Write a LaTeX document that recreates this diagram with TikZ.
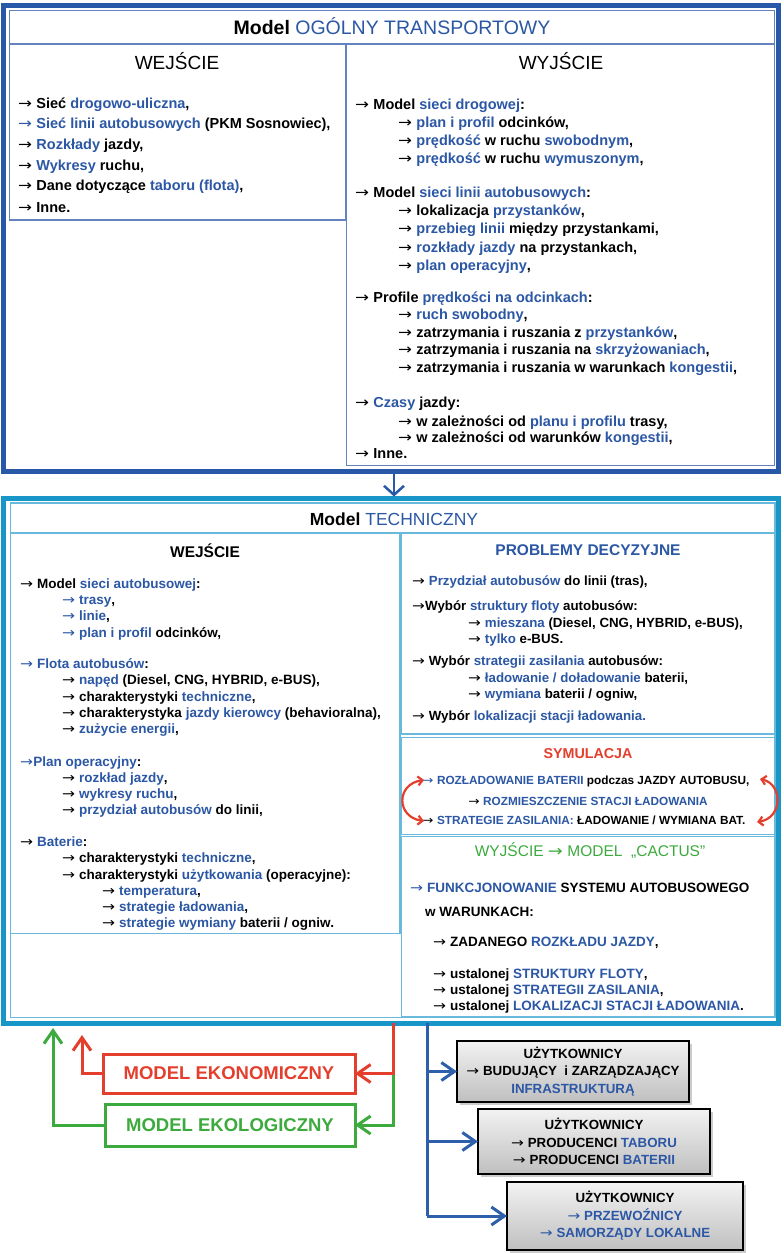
\documentclass[tikz,border=0pt]{standalone}
\usepackage{fontspec}
\usepackage{graphicx}
\setmainfont{Liberation Sans}
\newfontfamily\arrowfont{DejaVu Sans}
\usetikzlibrary{arrows.meta,shadows}
\definecolor{tb}{RGB}{43,87,165}
\definecolor{frameblue}{RGB}{40,88,168}
\definecolor{thinblue}{RGB}{100,130,190}
\definecolor{tealc}{RGB}{25,150,200}
\definecolor{thincyan}{RGB}{105,185,220}
\definecolor{redc}{RGB}{228,62,45}
\definecolor{greenc}{RGB}{60,170,60}
\definecolor{lineblue}{RGB}{45,95,170}
\newcommand\BL[1]{{\color{tb}#1}}
\newcommand\ra{\makebox[0.98em][l]{\scalebox{1.15}[1]{\arrowfont\mdseries →}}}
\newcommand\T[4]{\node[#1] (#2) at (#3) {#4};}
\newcommand\BX[7]{%
 \pgfmathsetmacro\bcx{(#3+#5)/2}\pgfmathsetmacro\bcy{(#4+#6)/2}%
 \pgfmathsetmacro\bw{#5-#3}\pgfmathsetmacro\bh{#6-#4}%
 \node[#1, minimum width=\bw pt, minimum height=\bh pt, inner sep=0pt, outer sep=0pt] (#2) at (\bcx,\bcy) {#7};}
\tikzset{
  tA/.style={anchor=base west, inner sep=0pt, font=\fontsize{14.5}{17}\selectfont\bfseries},
  tB/.style={anchor=base west, inner sep=0pt, font=\fontsize{13.5}{16}\selectfont\bfseries},
  tC/.style={anchor=base west, inner sep=0pt, font=\fontsize{13.3}{16}\selectfont\bfseries},
  tD/.style={anchor=base west, inner sep=0pt, font=\fontsize{11.8}{14}\selectfont\bfseries},
  head/.style={anchor=base, inner sep=0pt},
  thinT/.style={draw=thinblue, line width=1.2pt},
  thinC/.style={draw=thincyan, line width=1.2pt},
  conn/.style={line width=3pt, -{Straight Barb[length=13pt,width=18pt]}},
  ubox/.style={draw=black, line width=2pt, top color=gray!10, bottom color=gray!50,
    drop shadow={shadow xshift=3pt, shadow yshift=-3pt, fill=black!40},
    align=center, font=\fontsize{13.3}{17.5}\selectfont\bfseries},
  mbox/.style={line width=3pt, fill=white, font=\fontsize{18.5}{20}\selectfont\bfseries},
}
\begin{document}
\begin{tikzpicture}[x=1pt,y=-1pt]
\useasboundingbox[fill=white] (0,0) rectangle (784,1253);

% ---------- top model ----------
\BX{thinT}{ttitle}{9.5}{10.5}{774.5}{44}{}
\BX{thinT}{tin}{9.5}{44}{345.5}{220}{}
\BX{thinT}{tout}{346.5}{44}{774.5}{465.5}{}
\BX{draw=frameblue, line width=5pt}{topbox}{3.5}{5.5}{778.5}{471}{}

\T{head, font=\fontsize{19.5}{22}\selectfont}{title}{392,34}{\textbf{Model} \BL{OGÓLNY TRANSPORTOWY}}
\T{head, font=\fontsize{19}{22}\selectfont}{hin}{177,69}{WEJŚCIE}
\T{head, font=\fontsize{19}{22}\selectfont}{hout}{561,69}{WYJŚCIE}

\T{tA}{a1}{18,108}{\ra{} Sieć \BL{drogowo-uliczna},}
\T{tA}{a2}{18,128}{\BL{\ra{} Sieć linii autobusowych} (PKM Sosnowiec),}
\T{tA}{a3}{18,149}{\ra{} \BL{Rozkłady} jazdy,}
\T{tA}{a4}{18,170}{\ra{} \BL{Wykresy} ruchu,}
\T{tA}{a5}{18,190}{\ra{} Dane dotyczące \BL{taboru (flota)},}
\T{tA}{a6}{18,212}{\ra{} Inne.}

\T{tA}{b1}{355,109}{\ra{} Model \BL{sieci drogowej}:}
\T{tA}{b2}{398,127}{\ra{} \BL{plan i profil} odcinków,}
\T{tA}{b3}{398,145}{\ra{} \BL{prędkość} w ruchu \BL{swobodnym},}
\T{tA}{b4}{398,163}{\ra{} \BL{prędkość} w ruchu \BL{wymuszonym},}
\T{tA}{b5}{355,197}{\ra{} Model \BL{sieci linii autobusowych}:}
\T{tA}{b6}{398,215}{\ra{} lokalizacja \BL{przystanków},}
\T{tA}{b7}{398,233}{\ra{} \BL{przebieg linii} między przystankami,}
\T{tA}{b8}{398,252}{\ra{} \BL{rozkłady jazdy} na przystankach,}
\T{tA}{b9}{398,270}{\ra{} \BL{plan operacyjny},}
\T{tA}{b10}{355,302}{\ra{} Profile \BL{prędkości na odcinkach}:}
\T{tA}{b11}{398,319}{\ra{} \BL{ruch swobodny},}
\T{tA}{b12}{398,337}{\ra{} zatrzymania i ruszania z \BL{przystanków},}
\T{tA}{b13}{398,354}{\ra{} zatrzymania i ruszania na \BL{skrzyżowaniach},}
\T{tA}{b14}{398,372}{\ra{} zatrzymania i ruszania w warunkach \BL{kongestii},}
\T{tA}{b15}{355,407}{\ra{} \BL{Czasy} jazdy:}
\T{tA}{b16}{398,426}{\ra{} w zależności od \BL{planu i profilu} trasy,}
\T{tA}{b17}{398,442}{\ra{} w zależności od warunków \BL{kongestii},}
\T{tA}{b18}{355,458}{\ra{} Inne.}

% ---------- technical model ----------
\BX{thinC}{tecin}{10.5}{503}{775}{1017.5}{}
\BX{thinC}{twe}{10.5}{533}{400}{933.5}{}
\BX{thinC}{tpd}{401.5}{533}{775}{734}{}
\BX{thinC}{tsym}{401.5}{737.5}{775}{834.5}{}
\BX{thinC}{tcac}{401.5}{836.5}{775}{1017}{}
\BX{draw=tealc, line width=5pt}{techbox}{3.5}{498.5}{778.5}{1023}{}

\draw[frameblue, line width=2.5pt, -{Straight Barb[length=9pt,width=20pt]}, shorten >=2pt]
  ([xshift=3pt]topbox.south) -- ([xshift=3pt]techbox.north);

\T{head, font=\fontsize{17.5}{20}\selectfont}{ttl}{394,525}{\textbf{Model} \BL{TECHNICZNY}}
\T{head, font=\fontsize{15.5}{18}\selectfont\bfseries}{hwe}{205,557}{WEJŚCIE}
\T{head, font=\fontsize{15.5}{18}\selectfont\bfseries}{hpd}{588,555}{\BL{PROBLEMY DECYZYJNE}}

\T{tB}{c1}{20,588}{\ra{} Model \BL{sieci autobusowej}:}
\T{tB}{c2}{62,604}{\BL{\ra{} trasy},}
\T{tB}{c3}{62,620}{\BL{\ra{} linie},}
\T{tB}{c4}{62,637}{\BL{\ra{} plan i profil} odcinków,}
\T{tB}{c5}{20,668}{\BL{\ra{} Flota autobusów}:}
\T{tB}{c6}{62,684}{\ra{} \BL{napęd} (Diesel, CNG, HYBRID, e-BUS),}
\T{tB}{c7}{62,701}{\ra{} charakterystyki \BL{techniczne},}
\T{tB}{c8}{62,717}{\ra{} charakterystyka \BL{jazdy kierowcy} (behavioralna),}
\T{tB}{c9}{62,733}{\ra{} \BL{zużycie energii},}
\T{tB}{c10}{20,766}{\BL{\ra{}Plan operacyjny}:}
\T{tB}{c11}{62,782}{\ra{} \BL{rozkład jazdy},}
\T{tB}{c12}{62,798}{\ra{} \BL{wykresy ruchu},}
\T{tB}{c13}{62,814}{\ra{} \BL{przydział autobusów} do linii,}
\T{tB}{c14}{20,846}{\ra{} \BL{Baterie}:}
\T{tB}{c15}{62,862}{\ra{} charakterystyki \BL{techniczne},}
\T{tB}{c16}{62,879}{\ra{} charakterystyki \BL{użytkowania} (operacyjne):}
\T{tB}{c17}{102,895}{\ra{} \BL{temperatura},}
\T{tB}{c18}{102,911}{\ra{} \BL{strategie ładowania},}
\T{tB}{c19}{102,927}{\ra{} \BL{strategie wymiany} baterii / ogniw.}

\T{tC}{d1}{412,585}{\ra{} \BL{Przydział autobusów} do linii (tras),}
\T{tC}{d2}{412,610}{\ra{}Wybór \BL{struktury floty} autobusów:}
\T{tC}{d3}{468,627}{\ra{} \BL{mieszana} (Diesel, CNG, HYBRID, e-BUS),}
\T{tC}{d4}{468,643}{\ra{} \BL{tylko} e-BUS.}
\T{tC}{d5}{412,665}{\ra{} Wybór \BL{strategii zasilania} autobusów:}
\T{tC}{d6}{468,682}{\ra{} \BL{ładowanie / doładowanie} baterii,}
\T{tC}{d7}{468,698}{\ra{} \BL{wymiana} baterii / ogniw,}
\T{tC}{d8}{412,720}{\ra{} Wybór \BL{lokalizacji stacji ładowania.}}

\T{head, font=\fontsize{14.3}{17}\selectfont\bfseries}{hsym}{588,758.5}{\color{redc}SYMULACJA}
\T{tD}{e1}{422,784}{\BL{\ra{} ROZŁADOWANIE BATERII} podczas JAZDY AUTOBUSU,}
\T{tD, anchor=base}{e2}{588,805}{\ra{} \BL{ROZMIESZCZENIE STACJI ŁADOWANIA}}
\T{tD}{e3}{422,824.5}{\ra{} \BL{STRATEGIE ZASILANIA:} ŁADOWANIE / WYMIANA BAT.}
\coordinate (sl1) at (424,780);
\coordinate (sl2) at (424,821);
\coordinate (sr1) at (760,779);
\coordinate (sr2) at (757,822);
\draw[redc, line width=2.2pt, {Straight Barb[length=4.5pt,width=9pt]}-{Straight Barb[length=4.5pt,width=9pt]}]
  (sl1) .. controls (396,784) and (396,817) .. (sl2);
\draw[redc, line width=2.2pt, {Straight Barb[length=4.5pt,width=9pt]}-{Straight Barb[length=4.5pt,width=9pt]}]
  (sr1) .. controls (783,784) and (783,818) .. (sr2);

\T{head, font=\fontsize{15.5}{18}\selectfont}{hcac}{590,856}{\color{greenc}WYJŚCIE \ra{} MODEL\ \ „CACTUS”}
\T{tB}{f1}{410,892}{\BL{\ra{} FUNKCJONOWANIE} SYSTEMU AUTOBUSOWEGO}
\T{tB}{f2}{425,916}{w WARUNKACH:}
\T{tB}{f3}{433,946}{\ra{} ZADANEGO \BL{ROZKŁADU JAZDY},}
\T{tB}{f4}{433,978}{\ra{} ustalonej \BL{STRUKTURY FLOTY},}
\T{tB}{f5}{433,994}{\ra{} ustalonej \BL{STRATEGII ZASILANIA},}
\T{tB}{f6}{433,1010}{\ra{} ustalonej \BL{LOKALIZACJI STACJI ŁADOWANIA}.}

% ---------- bottom models ----------
\BX{mbox, draw=redc, text=redc}{econ}{103}{1054}{355}{1093}{MODEL EKONOMICZNY}
\BX{mbox, draw=greenc, text=greenc}{ecol}{105}{1104}{355}{1146}{MODEL EKOLOGICZNY}

\coordinate (rj) at (393,1073.5);
\coordinate (redtip) at (82,1035);
\coordinate (greentip) at (53,1028);
\draw[greenc, conn] (rj) -- (ecol.east -| rj) -- (ecol.east);
\draw[redc, conn] (techbox.south -| rj) -- (rj) -- (econ.east);
\draw[redc, conn] (econ.west) -| (redtip);
\draw[greenc, conn] (ecol.west) -| (greentip);

% ---------- users ----------
\BX{ubox}{u1}{457}{1041}{689}{1102}{UŻYTKOWNICY\\\ra{} BUDUJĄCY\ \ i ZARZĄDZAJĄCY\\\BL{INFRASTRUKTURĄ}}
\BX{ubox}{u2}{478}{1109}{710}{1174}{UŻYTKOWNICY\\\ra{} PRODUCENCI \BL{TABORU}\\\ra{} PRODUCENCI \BL{BATERII}}
\BX{ubox}{u3}{507}{1182}{743}{1250}{UŻYTKOWNICY\\\BL{\ra{} PRZEWOŹNICY}\\\BL{\ra{} SAMORZĄDY LOKALNE}}

\coordinate (bj) at (427,1073);
\draw[lineblue, line width=3pt] (techbox.south -| bj) -- (u3.west -| bj);
\draw[lineblue, conn] (u1.west -| bj) -- (u1.west);
\draw[lineblue, conn] (u2.west -| bj) -- (u2.west);
\draw[lineblue, conn] (u3.west -| bj) -- (u3.west);
\end{tikzpicture}
\end{document}
